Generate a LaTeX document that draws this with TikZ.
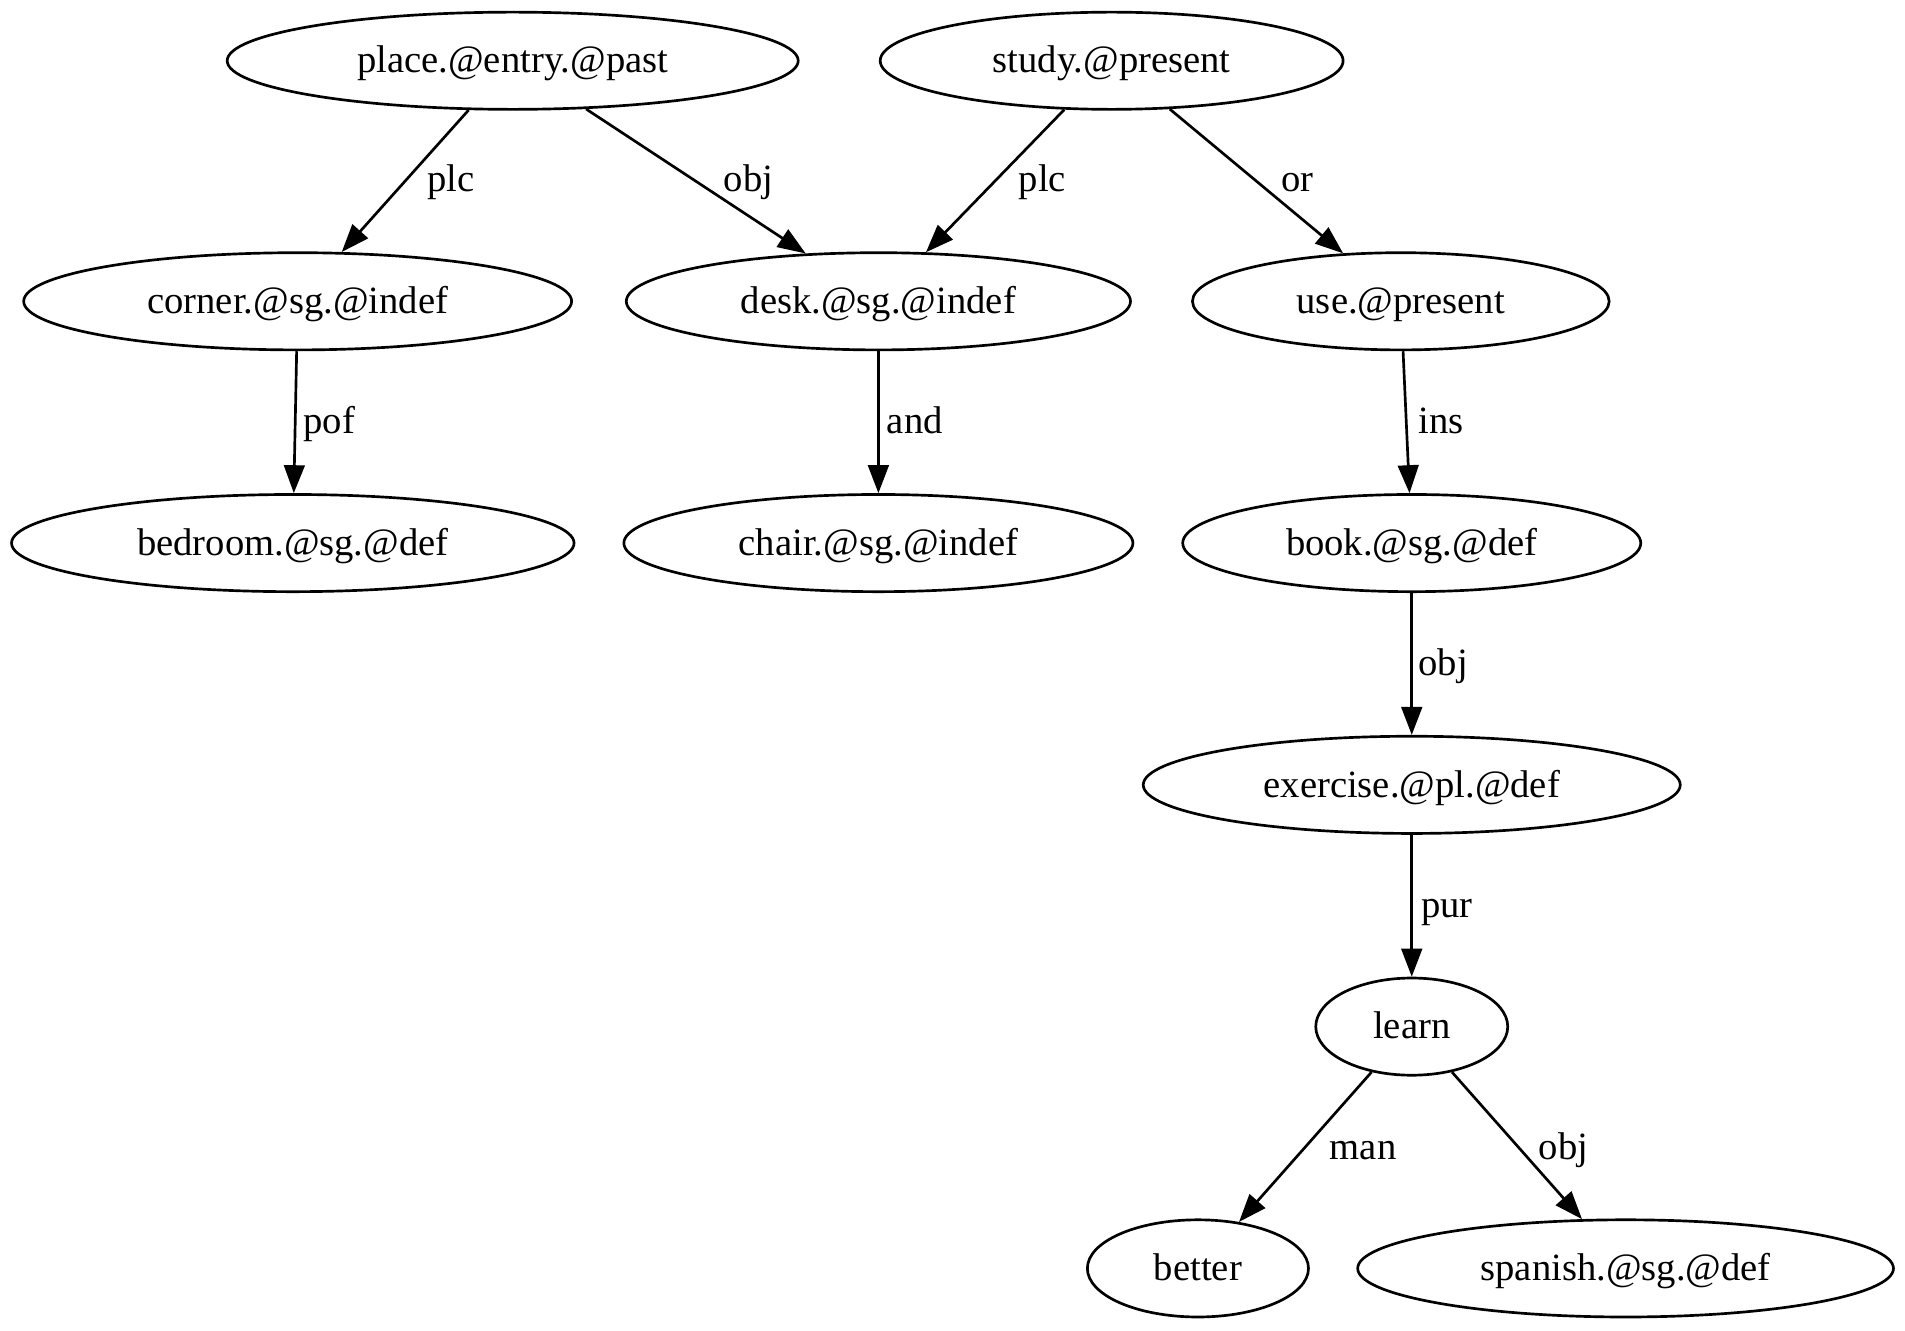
\documentclass[tikz,border=0pt]{standalone}
\usepackage{fontspec}
\setmainfont{Liberation Serif}
\usetikzlibrary{shapes.geometric,arrows.meta}
\begin{document}
\begin{tikzpicture}[x=1pt,y=-1pt,
  every node/.style={font=\fontsize{31.8pt}{36pt}\selectfont, text height=24pt, text depth=4pt, inner sep=0pt},
  gnode/.style={draw, ellipse, line width=2.2pt, minimum height=80pt},
  edge/.style={line width=2.2pt, -{Triangle[length=23pt,width=17pt]}},
  elabel/.style={}]
\useasboundingbox (0,0) rectangle (1568,1095);
\node[gnode, minimum width=470pt] (place) at (422,50) {place.@entry.@past};
\node[gnode, minimum width=381pt] (study) at (915,50) {study.@present};
\node[gnode, minimum width=451pt] (corner) at (245,248) {corner.@sg.@indef};
\node[gnode, minimum width=415pt] (desk) at (723,248) {desk.@sg.@indef};
\node[gnode, minimum width=343pt] (use) at (1153,248) {use.@present};
\node[gnode, minimum width=463pt] (bedroom) at (241,447) {bedroom.@sg.@def};
\node[gnode, minimum width=419pt] (chair) at (723,447) {chair.@sg.@indef};
\node[gnode, minimum width=377pt] (book) at (1162,447) {book.@sg.@def};
\node[gnode, minimum width=442pt] (exercise) at (1162,646) {exercise.@pl.@def};
\node[gnode, minimum width=158pt] (learn) at (1162,845) {learn};
\node[gnode, minimum width=182pt] (better) at (986,1044) {better};
\node[gnode, minimum width=441pt] (spanish) at (1338,1044) {spanish.@sg.@def};

\draw[edge] (place) -- (corner);
\draw[edge] (place) -- (desk);
\draw[edge] (study) -- (desk);
\draw[edge] (study) -- (use);
\draw[edge] (corner) -- (bedroom);
\draw[edge] (desk) -- (chair);
\draw[edge] (use) -- (book);
\draw[edge] (book) -- (exercise);
\draw[edge] (exercise) -- (learn);
\draw[edge] (learn) -- (better);
\draw[edge] (learn) -- (spanish);

\node[elabel] (l1) at (371,148) {plc};
\node[elabel] (l2) at (616,148) {obj};
\node[elabel] (l3) at (858,148) {plc};
\node[elabel] (l4) at (1068,148) {or};
\node[elabel] (l5) at (271,347) {pof};
\node[elabel] (l6) at (753,347) {and};
\node[elabel] (l7) at (1186,347) {ins};
\node[elabel] (l8) at (1188,546) {obj};
\node[elabel] (l9) at (1191,745) {pur};
\node[elabel] (l10) at (1122,944) {man};
\node[elabel] (l11) at (1287,944) {obj};
\end{tikzpicture}
\end{document}
